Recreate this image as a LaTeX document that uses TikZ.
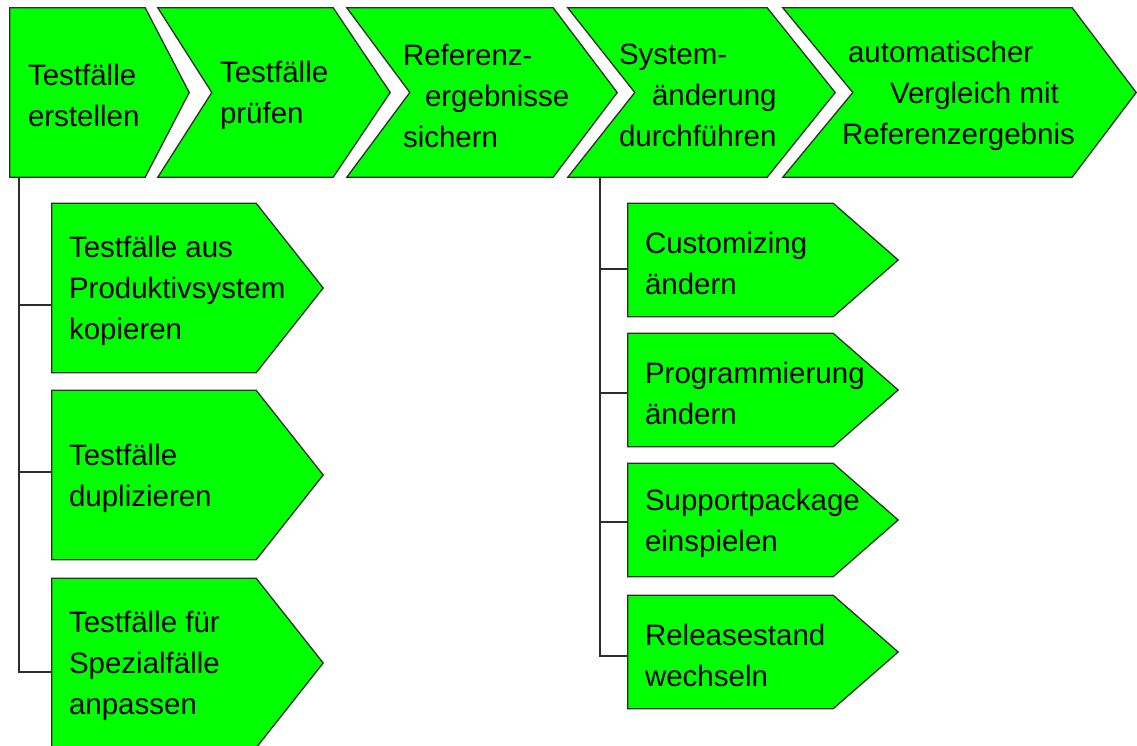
\documentclass[tikz,border=0pt]{standalone}
\usepackage{fontspec}
\setmainfont{Liberation Sans}
\usetikzlibrary{positioning, calc}

\definecolor{stepgreen}{RGB}{0,255,0}
\definecolor{edgegray}{RGB}{45,45,45}

\begin{document}
\begin{tikzpicture}[x=1pt, y=-1pt,
            body/.style={rectangle, inner sep=0pt},
            phase/.style={body, minimum height=169pt},
            sub_left/.style={body, minimum width=204pt, minimum height=169pt},
            sub_right/.style={body, minimum width=205pt, minimum height=113pt},
            outline/.style={fill=stepgreen, draw=edgegray, line width=1.3pt, line join=miter},
            label_text/.style={inner sep=0pt, align=left, font=\fontsize{29.5}{41}\selectfont, yshift=-3pt},
            link/.style={draw=edgegray, line width=1.5pt}
        ]

\useasboundingbox (0,0) rectangle (1137,745);

% Process chain (top row)
            \node[phase, minimum width=135pt] (erstellen) at (77.5,92.5) {};
            \node[phase, minimum width=175pt] (pruefen) at (245.5,92.5) {};
            \node[phase, minimum width=206pt] (sichern) at (450,92.5) {};
            \node[phase, minimum width=199pt] (aenderung) at (667.5,92.5) {};
            \node[phase, minimum width=289pt] (vergleich) at (927.5,92.5) {};

% Sub steps
            \node[sub_left] (kopieren) at (154,288) {};
            \node[sub_left] (duplizieren) at (154,475) {};
            \node[sub_left] (anpassen) at (154,663) {};
            \node[sub_right] (customizing) at (730.5,260) {};
            \node[sub_right] (programmierung) at (730.5,390) {};
            \node[sub_right] (support) at (730.5,520) {};
            \node[sub_right] (release) at (730.5,652) {};

% Chevron outlines
            \filldraw[outline] (erstellen.north west) -- (erstellen.north east) -- ($(erstellen.east)+(44,0)$) -- (erstellen.south east) -- (erstellen.south west) -- cycle;
            \filldraw[outline] (pruefen.north west) -- (pruefen.north east) -- ($(pruefen.east)+(57,0)$) -- (pruefen.south east) -- (pruefen.south west) -- ($(pruefen.west)+(54,0)$) -- cycle;
            \filldraw[outline] (sichern.north west) -- (sichern.north east) -- ($(sichern.east)+(64,0)$) -- (sichern.south east) -- (sichern.south west) -- ($(sichern.west)+(63,0)$) -- cycle;
            \filldraw[outline] (aenderung.north west) -- (aenderung.north east) -- ($(aenderung.east)+(68,0)$) -- (aenderung.south east) -- (aenderung.south west) -- ($(aenderung.west)+(67,0)$) -- cycle;
            \filldraw[outline] (vergleich.north west) -- (vergleich.north east) -- ($(vergleich.east)+(64,0)$) -- (vergleich.south east) -- (vergleich.south west) -- ($(vergleich.west)+(70,0)$) -- cycle;

            \filldraw[outline] (kopieren.north west) -- (kopieren.north east) -- ($(kopieren.east)+(67,0)$) -- (kopieren.south east) -- (kopieren.south west) -- cycle;
            \filldraw[outline] (duplizieren.north west) -- (duplizieren.north east) -- ($(duplizieren.east)+(67,0)$) -- (duplizieren.south east) -- (duplizieren.south west) -- cycle;
            \filldraw[outline] (anpassen.north west) -- (anpassen.north east) -- ($(anpassen.east)+(67,0)$) -- (anpassen.south east) -- (anpassen.south west) -- cycle;
            \filldraw[outline] (customizing.north west) -- (customizing.north east) -- ($(customizing.east)+(65,0)$) -- (customizing.south east) -- (customizing.south west) -- cycle;
            \filldraw[outline] (programmierung.north west) -- (programmierung.north east) -- ($(programmierung.east)+(65,0)$) -- (programmierung.south east) -- (programmierung.south west) -- cycle;
            \filldraw[outline] (support.north west) -- (support.north east) -- ($(support.east)+(65,0)$) -- (support.south east) -- (support.south west) -- cycle;
            \filldraw[outline] (release.north west) -- (release.north east) -- ($(release.east)+(65,0)$) -- (release.south east) -- (release.south west) -- cycle;

% Labels
            \node[label_text, right=18pt of erstellen.west] (erstellen_txt) {Testfälle\\erstellen};
            \node[label_text, right=62pt of pruefen.west] (pruefen_txt) {Testfälle\\prüfen};
            \node[label_text, right=56pt of sichern.west] (sichern_txt) {Referenz-\\\hspace*{22pt}ergebnisse\\sichern};
            \node[label_text, right=51pt of aenderung.west] (aenderung_txt) {System-\\\hspace*{33pt}änderung\\durchführen};
            \node[label_text, right=59pt of vergleich.west] (vergleich_txt) {\hspace*{6pt}automatischer\\\hspace*{48pt}Vergleich mit\\Referenzergebnis};

            \node[label_text, right=17pt of kopieren.west] (kopieren_txt) {Testfälle aus\\Produktivsystem\\kopieren};
            \node[label_text, right=17pt of duplizieren.west] (duplizieren_txt) {Testfälle\\duplizieren};
            \node[label_text, right=17pt of anpassen.west] (anpassen_txt) {Testfälle für\\Spezialfälle\\anpassen};
            \node[label_text, right=17pt of customizing.west] (customizing_txt) {Customizing\\ändern};
            \node[label_text, right=17pt of programmierung.west] (programmierung_txt) {Programmierung\\ändern};
            \node[label_text, right=17pt of support.west] (support_txt) {Supportpackage\\einspielen};
            \node[label_text, right=17pt of release.west] (release_txt) {Releasestand\\wechseln};

% Tree connections
            \coordinate (stem_left) at ($(erstellen.south west)+(9,0)$);
            \coordinate (stem_right) at ($(aenderung.south west)+(32,0)$);
            \draw[link] (stem_left) |- ([yshift=-17pt]kopieren.west);
            \draw[link] (stem_left) |- ([yshift=3pt]duplizieren.west);
            \draw[link] (stem_left) |- ([yshift=-9pt]anpassen.west);
            \draw[link] (stem_right) |- ([yshift=-9pt]customizing.west);
            \draw[link] (stem_right) |- ([yshift=-3pt]programmierung.west);
            \draw[link] (stem_right) |- ([yshift=-2pt]support.west);
            \draw[link] (stem_right) |- ([yshift=-4pt]release.west);

        \end{tikzpicture}
\end{document}
